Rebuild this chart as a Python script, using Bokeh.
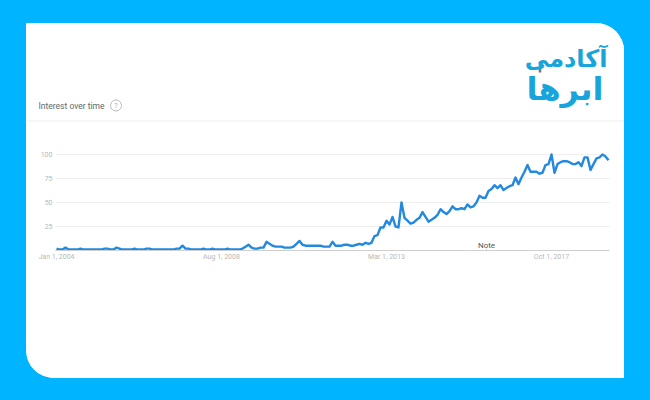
from bokeh.plotting import figure
from bokeh.models import Label, Range1d, FixedTicker
from bokeh.embed import file_html
from bokeh.resources import INLINE

interest = [
    2,1,1,3,1,1,1,1,2,1,
    1,1,1,1,1,1,2,2,1,1,
    3,2,1,1,1,1,2,1,1,1,
    2,2,1,1,1,1,1,1,1,1,
    2,2,5,2,2,1,1,1,1,2,
    1,1,2,1,1,1,1,2,1,1,
    1,1,2,4,6,3,2,2,3,3,
    9,7,5,4,4,4,3,3,3,4,
    7,10,6,5,5,5,5,5,5,4,
    4,4,9,5,5,5,6,6,5,5,
    6,7,6,8,7,8,15,16,24,24,
    31,27,35,25,24,50,34,31,28,29,
    32,34,40,35,30,32,34,37,43,40,
    38,41,46,43,43,44,43,48,45,46,
    50,57,55,55,62,64,68,65,68,63,
    65,67,68,76,69,76,82,89,82,82,
    82,80,81,89,90,100,81,90,92,93,
    93,92,90,90,92,88,97,97,84,90,
    96,97,100,98,94,
]
months = list(range(len(interest)))
y_ticks = [25, 50, 75, 100]
x_ticks = [0, 55, 110, 165]
x_labels = {0: "Jan 1, 2004", 55: "Aug 1, 2008", 110: "Mar 1, 2013", 165: "Oct 1, 2017"}

LABEL = "#b8b8b8"
BLUE = "#00b4ff"
LOGO = "#18a5dc"

def px_x(px):
    return (px - 56) / 3

def px_y(py):
    return (250 - py) / 0.96

X0, X1 = px_x(55), px_x(609)

p = figure(width=598, height=355, output_backend="svg", toolbar_location=None,
           x_range=Range1d(px_x(26), px_x(624)), y_range=Range1d(px_y(378), px_y(23)),
           min_border=0, background_fill_color="white", border_fill_color="white", outline_line_color=None)
p.styles = {"margin-left": "26px", "margin-top": "23px", "overflow": "hidden",
            "border-radius": "0 28px 0 28px", "box-shadow": f"0 0 0 1200px {BLUE}"}
p.xgrid.visible = False
p.ygrid.visible = False

p.segment(x0=[X0] * len(y_ticks), x1=[X1] * len(y_ticks), y0=y_ticks, y1=y_ticks, line_color="#efefef", line_width=1)
p.segment(x0=[px_x(26)], x1=[px_x(624)], y0=[px_y(120.5)], y1=[px_y(120.5)], line_color="#ededed", line_width=1)
p.segment(x0=[px_x(486)], x1=[px_x(486)], y0=[0], y1=[px_y(248)], line_color="#d8d8d8", line_width=1)
p.line(months, interest, line_color="#2389de", line_width=2.4, line_join="round")
p.scatter([px_x(115.5)], [px_y(105)], marker="circle", size=11, fill_color=None, line_color="#bbbbbb", line_width=1)
p.segment(x0=[px_x(539.5)], x1=[px_x(539.5)], y0=[px_y(63)], y1=[px_y(72)], line_color="#777777", line_width=2.5)

p.xaxis.ticker = FixedTicker(ticks=x_ticks)
p.xaxis.major_label_overrides = x_labels
p.xaxis.fixed_location = 0
p.xaxis.bounds = (X0, X1)
p.yaxis.ticker = FixedTicker(ticks=y_ticks)
p.yaxis.fixed_location = X0
p.yaxis.bounds = (0, 100)
for ax in (p.xaxis[0], p.yaxis[0]):
    ax.major_tick_line_color = None
    ax.minor_tick_line_color = None
    ax.major_tick_out = 0
    ax.major_tick_in = 0
    ax.major_label_text_color = LABEL
    ax.major_label_text_font = "Roboto"
    ax.major_label_text_font_size = "7px"
p.xaxis.major_label_standoff = 2
p.yaxis.major_label_standoff = 3
p.yaxis.axis_line_color = None
p.xaxis.axis_line_color = "#cfcfcf"

def add_text(px, py, text, **kw):
    p.add_layout(Label(x=px_x(px), y=px_y(py), text=text, text_baseline="middle", **kw))

add_text(38, 105, "Interest over time", text_font="Roboto", text_font_size="8.5px", text_color="#666666")
add_text(115.5, 105, "?", text_font="Roboto", text_font_size="7px", text_color="#aaaaaa", text_align="center")
add_text(486, 244.5, "Note", text_font="Roboto", text_font_size="8px", text_color="#555555", text_align="center")
add_text(607, 58, "آکادمی", text_font="DejaVu Sans", text_font_style="bold", text_font_size="24px",
         text_color=LOGO, text_align="right")
add_text(603, 88, "ابرها", text_font="DejaVu Sans", text_font_style="bold", text_font_size="32px",
         text_color=LOGO, text_align="right")

open("out.html", "w").write(file_html(p, INLINE))
